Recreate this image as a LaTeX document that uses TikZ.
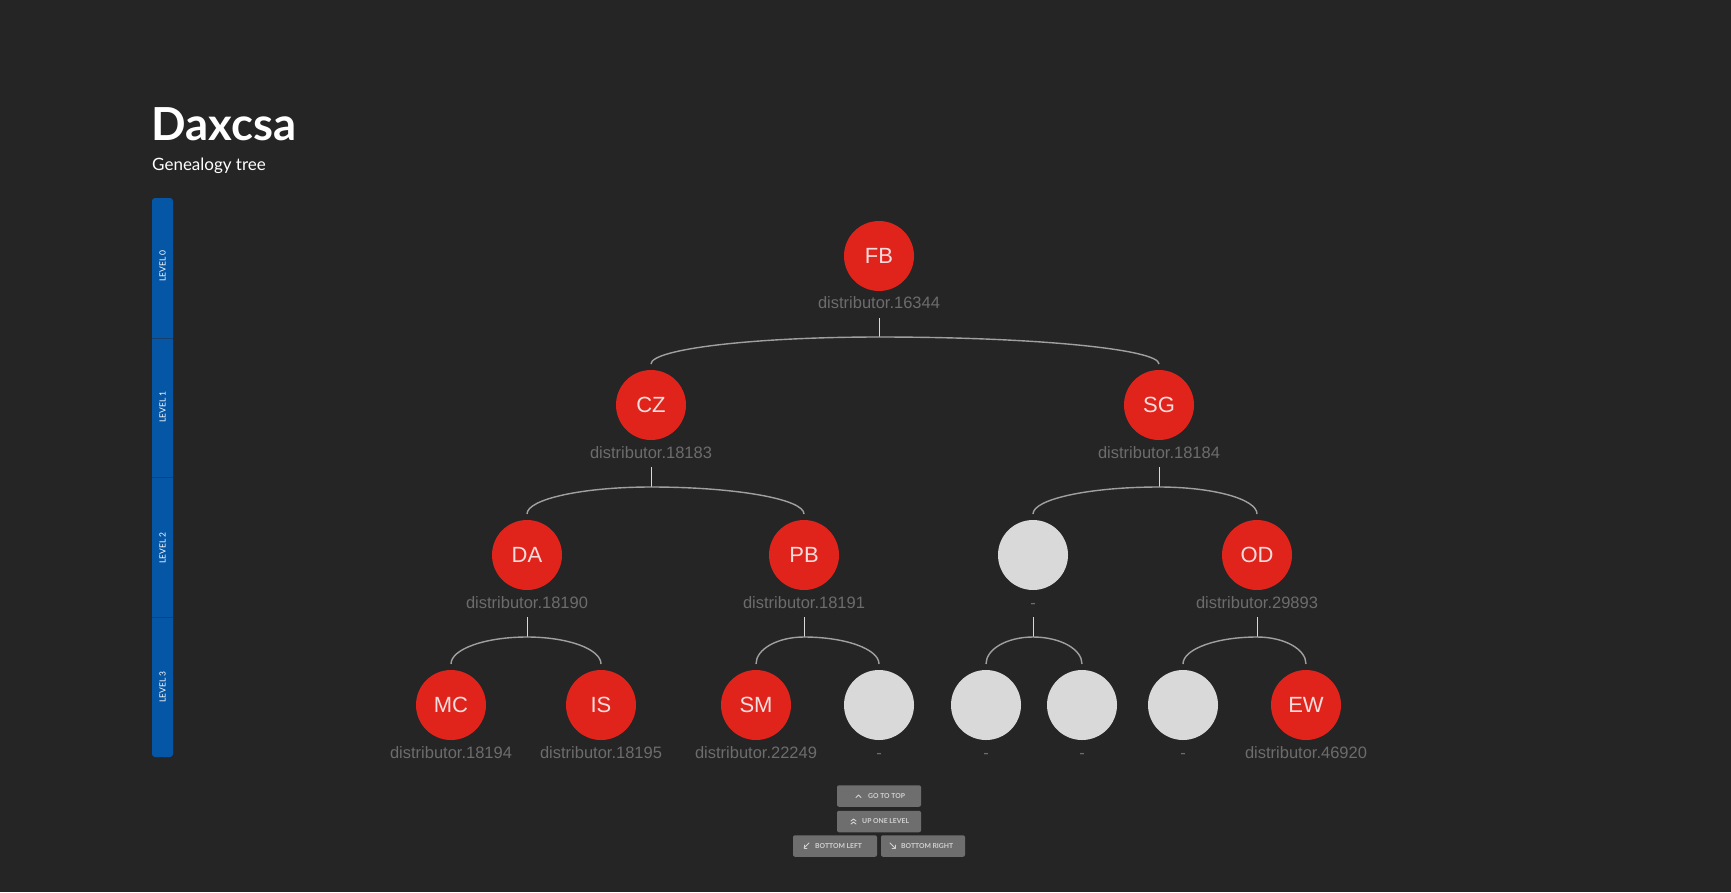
\documentclass[tikz,border=0pt]{standalone}
\usepackage{fontspec}
\setmainfont{Liberation Sans}
\newfontfamily\titlefont{Lato}
\usetikzlibrary{calc}
\definecolor{bg}{HTML}{252525}
\definecolor{redn}{HTML}{E0241C}
\definecolor{grayn}{HTML}{D9D9D9}
\definecolor{distc}{HTML}{6C6C6C}
\definecolor{arcc}{HTML}{A0A0A0}
\definecolor{stemc}{HTML}{D8D8D8}
\definecolor{lvlblue}{HTML}{0557A6}
\definecolor{lvldiv}{HTML}{16406E}
\definecolor{btnc}{HTML}{6E6E6E}
\definecolor{btntext}{HTML}{D2D2D2}
\definecolor{nodetext}{HTML}{F6DCDC}
\tikzset{
  person/.style={circle, fill=redn, minimum size=70pt, inner sep=0pt,
    text=nodetext, font=\fontsize{22}{22}\selectfont},
  empty/.style={circle, fill=grayn, minimum size=70pt, inner sep=0pt},
  dist/.style={text=distc, font=\fontsize{16.5}{16.5}\selectfont, inner sep=0pt, anchor=base},
  stem/.style={draw=stemc, line width=1pt},
  arcline/.style={draw=arcc, line width=1.4pt},
  lvltext/.style={rotate=90, text=white, font=\fontsize{8.5}{8.5}\selectfont\titlefont, inner sep=0pt},
  btn/.style={fill=btnc, rounded corners=2pt, minimum width=84pt, minimum height=21.5pt, inner sep=0pt},
  btnlabel/.style={text=btntext, font=\fontsize{6.8}{6.8}\selectfont\titlefont\bfseries, inner sep=0pt, anchor=west},
  icon/.style={draw=btntext, line width=0.9pt, line cap=round, line join=round},
}
\newcommand{\famlink}[3]{%
  \draw[stem] let \p1=(#1), \p2=(#2) in (\x1,\y1-62pt) -- (\x1,\y2+68pt);
  \draw[arcline] let \p1=(#1), \p2=(#2), \p3=(#3) in
    (\x2,\y2+41pt) .. controls (\x2,{\y2+41pt+0.5523*27pt}) and ({\x1-0.5523*(\x1-\x2)},\y2+68pt) .. (\x1,\y2+68pt)
    .. controls ({\x1+0.5523*(\x3-\x1)},\y2+68pt) and (\x3,{\y2+41pt+0.5523*27pt}) .. (\x3,\y2+41pt);
}
\begin{document}
\begin{tikzpicture}[x=1pt,y=-1pt]
\fill[bg] (0,0) rectangle (1731,892);
\useasboundingbox (0,0) rectangle (1731,892);

% title
\node[anchor=base west, inner sep=0pt, text=white, font=\fontsize{45.5}{45.5}\selectfont\titlefont\bfseries] (title) at (151,140) {Daxcsa};
\node[anchor=base west, inner sep=0pt, text=white, font=\fontsize{17}{17}\selectfont\titlefont] (subtitle) at (152,170) {Genealogy tree};

% level bar
\fill[lvlblue, rounded corners=3pt] (152,198) rectangle (173,757);
\draw[lvldiv, line width=1pt] (152,338) -- (173,338);
\draw[lvldiv, line width=1pt] (152,477) -- (173,477);
\draw[lvldiv, line width=1pt] (152,617) -- (173,617);
\node[lvltext] (l0) at (162.5,266) {LEVEL 0};
\node[lvltext] (l1) at (162.5,407) {LEVEL 1};
\node[lvltext] (l2) at (162.5,548) {LEVEL 2};
\node[lvltext] (l3) at (162.5,687) {LEVEL 3};

% level 0
\node[person] (FB) at (879,256) {FB};
\node[dist] (FBl) at (879,308) {distributor.16344};
% level 1
\node[person] (CZ) at (651,405) {CZ};
\node[dist] (CZl) at (651,458) {distributor.18183};
\node[person] (SG) at (1159,405) {SG};
\node[dist] (SGl) at (1159,458) {distributor.18184};
% level 2
\node[person] (DA) at (527,555) {DA};
\node[dist] (DAl) at (527,608) {distributor.18190};
\node[person] (PB) at (804,555) {PB};
\node[dist] (PBl) at (804,608) {distributor.18191};
\node[empty] (E1) at (1033,555) {};
\node[dist] (E1l) at (1033,608) {-};
\node[person] (OD) at (1257,555) {OD};
\node[dist] (ODl) at (1257,608) {distributor.29893};
% level 3
\node[person] (MC) at (451,705) {MC};
\node[dist] (MCl) at (451,758) {distributor.18194};
\node[person] (IS) at (601,705) {IS};
\node[dist] (ISl) at (601,758) {distributor.18195};
\node[person] (SM) at (756,705) {SM};
\node[dist] (SMl) at (756,758) {distributor.22249};
\node[empty] (E2) at (879,705) {};
\node[dist] (E2l) at (879,758) {-};
\node[empty] (E3) at (986,705) {};
\node[dist] (E3l) at (986,758) {-};
\node[empty] (E4) at (1082,705) {};
\node[dist] (E4l) at (1082,758) {-};
\node[empty] (E5) at (1183,705) {};
\node[dist] (E5l) at (1183,758) {-};
\node[person] (EW) at (1306,705) {EW};
\node[dist] (EWl) at (1306,758) {distributor.46920};

% connectors
\famlink{FB}{CZ}{SG}
\famlink{CZ}{DA}{PB}
\famlink{SG}{E1}{OD}
\famlink{DA}{MC}{IS}
\famlink{PB}{SM}{E2}
\famlink{E1}{E3}{E4}
\famlink{OD}{E5}{EW}

% buttons
\node[btn] (bTop) at (879,796) {};
\node[btn] (bUp) at (879,821.5) {};
\node[btn] (bLeft) at (835,846) {};
\node[btn] (bRight) at (923,846) {};
\node[btnlabel] (tTop) at ($(bTop.center)+(-11,0)$) {GO TO TOP};
\node[btnlabel] (tUp) at ($(bUp.center)+(-17,0)$) {UP ONE LEVEL};
\node[btnlabel] (tLeft) at ($(bLeft.center)+(-20,0)$) {BOTTOM LEFT};
\node[btnlabel] (tRight) at ($(bRight.center)+(-22,0)$) {BOTTOM RIGHT};
% icons
\draw[icon] ($(tTop.west)+(-12,1.5)$) -- ++(2.5,-2.5) -- ++(2.5,2.5);
\draw[icon] ($(tUp.west)+(-11,-0.5)$) -- ++(2.5,-2) -- ++(2.5,2);
\draw[icon] ($(tUp.west)+(-11,2.5)$) -- ++(2.5,-2) -- ++(2.5,2);
\draw[icon] ($(tLeft.west)+(-6,-3)$) -- ++(-5,5);
\draw[icon] ($(tLeft.west)+(-11,-1)$) -- ++(0,3) -- ++(3,0);
\draw[icon] ($(tRight.west)+(-11,-3)$) -- ++(5,5);
\draw[icon] ($(tRight.west)+(-9,2)$) -- ++(3,0) -- ++(0,-3);
\end{tikzpicture}
\end{document}
